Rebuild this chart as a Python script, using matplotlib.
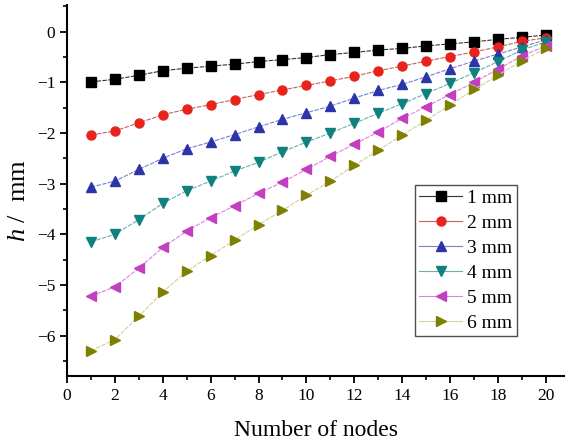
import numpy as np
import matplotlib
matplotlib.use('Agg')
import matplotlib.pyplot as plt
from matplotlib.ticker import MultipleLocator

plt.rcParams['font.family'] = ['Liberation Serif', 'DejaVu Serif']
plt.rcParams['mathtext.fontset'] = 'custom'
plt.rcParams['mathtext.it'] = 'Liberation Serif:italic'
plt.rcParams['mathtext.rm'] = 'Liberation Serif'

# ---- data ----
nodes = np.arange(1, 21)
labels = ['1 mm', '2 mm', '3 mm', '4 mm', '5 mm', '6 mm']
h_1mm = [-0.99, -0.94, -0.86, -0.77, -0.72, -0.68, -0.64, -0.59, -0.55, -0.51,
         -0.45, -0.41, -0.36, -0.33, -0.28, -0.24, -0.20, -0.15, -0.11, -0.065]
h_2mm = [-2.04, -1.96, -1.80, -1.64, -1.53, -1.44, -1.34, -1.24, -1.15, -1.06,
         -0.97, -0.88, -0.77, -0.68, -0.58, -0.49, -0.40, -0.30, -0.19, -0.12]
h_3mm = [-3.07, -2.95, -2.72, -2.50, -2.31, -2.18, -2.03, -1.88, -1.73, -1.60,
         -1.47, -1.31, -1.16, -1.04, -0.89, -0.73, -0.58, -0.44, -0.30, -0.16]
h_4mm = [-4.15, -4.00, -3.71, -3.39, -3.14, -2.95, -2.75, -2.58, -2.37, -2.18,
         -2.00, -1.81, -1.61, -1.42, -1.22, -1.02, -0.81, -0.59, -0.36, -0.20]
h_5mm = [-5.22, -5.04, -4.67, -4.26, -3.94, -3.67, -3.44, -3.19, -2.97, -2.72,
         -2.46, -2.22, -1.98, -1.71, -1.48, -1.24, -1.00, -0.74, -0.48, -0.28]
h_6mm = [-6.30, -6.08, -5.62, -5.14, -4.73, -4.42, -4.12, -3.81, -3.53, -3.23,
         -2.95, -2.64, -2.34, -2.04, -1.75, -1.45, -1.14, -0.86, -0.57, -0.33]
series = [h_1mm, h_2mm, h_3mm, h_4mm, h_5mm, h_6mm]

markers = ['s', 'o', '^', 'v', '<', '>']
marker_colors = ['#000000', '#e8231c', '#2b35a8', '#0f8280', '#c23fc0', '#808000']
line_colors = ['#333333', '#c86060', '#7a80d0', '#6ab0ae', '#e080e0', '#d0d0a0']

fig = plt.figure(figsize=(5.65, 4.45), dpi=100)
ax = fig.add_axes([0.1186, 0.155, 0.8814, 0.834])

for h, lab, mk, mc, lc in zip(series, labels, markers, marker_colors, line_colors):
    ax.plot(nodes, h, color=lc, lw=0.8, ls=(0, (4, 1.2)),
            marker=mk, ms=6.5, mfc=mc, mec=mc, label=lab)

ax.set_xlim(0, 20.8)
ax.set_ylim(-6.8, 0.53)
ax.xaxis.set_major_locator(MultipleLocator(2))
ax.xaxis.set_minor_locator(MultipleLocator(1))
ax.yaxis.set_major_locator(MultipleLocator(1))
ax.yaxis.set_minor_locator(MultipleLocator(0.5))

for s in ['top', 'right']:
    ax.spines[s].set_visible(False)
for s in ['left', 'bottom']:
    ax.spines[s].set_linewidth(1.5)

ax.tick_params(which='major', direction='out', length=5, width=1.3, labelsize=12.5)
ax.tick_params(which='minor', direction='out', length=3, width=1.2)

ax.set_xlabel('Number of nodes', fontsize=17, labelpad=12)
ax.set_ylabel('$h$ /  mm', fontsize=19)
ax.yaxis.set_label_coords(-0.074, 0.472)

leg = ax.legend(loc='upper left', bbox_to_anchor=(0.699, 0.515), fontsize=14,
                frameon=True, fancybox=False, edgecolor='#222222',
                handlelength=2.2, handletextpad=0.25, labelspacing=0.38,
                borderpad=0.22, borderaxespad=0)
leg.get_frame().set_linewidth(1.0)
for line in leg.get_lines():
    line.set_linestyle('-')

fig.savefig('out.png', dpi=100)
